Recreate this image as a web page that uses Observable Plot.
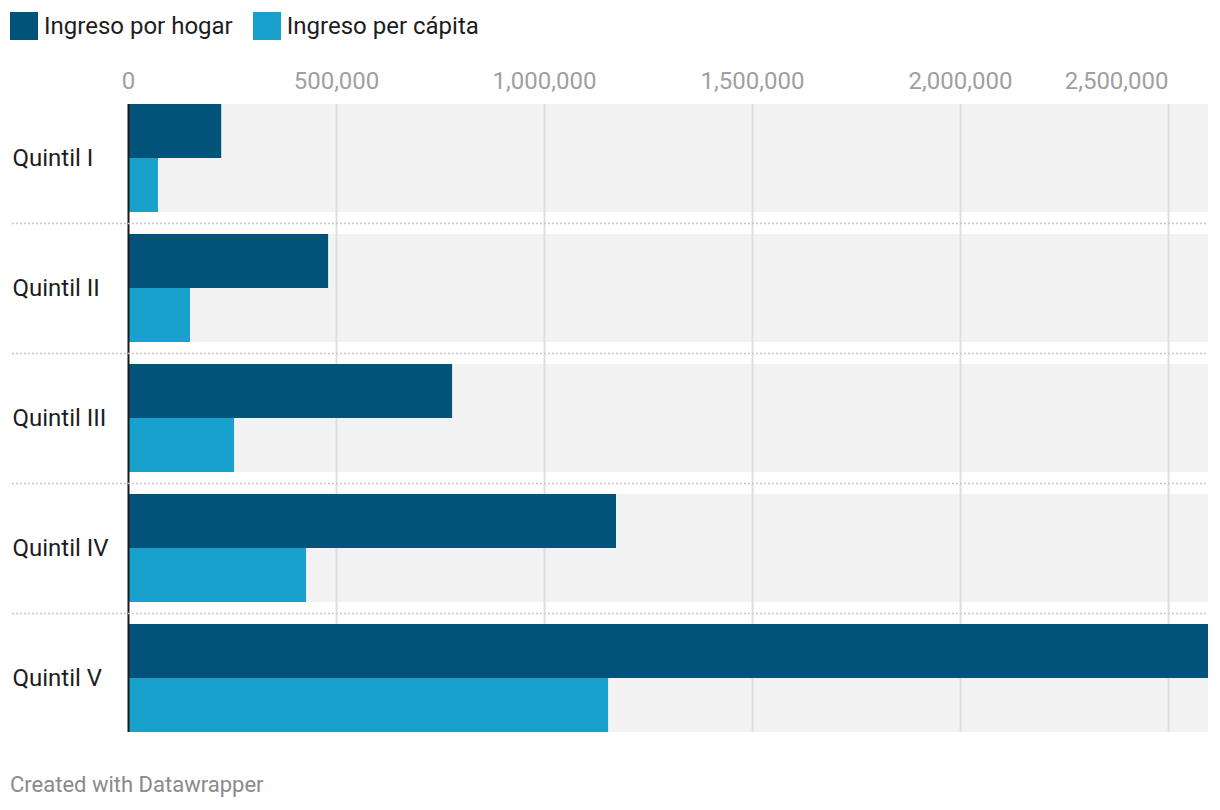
<!DOCTYPE html>
<html>
<head>
<meta charset="utf-8">
<script src="https://cdn.jsdelivr.net/npm/d3@7"></script>
<script src="https://cdn.jsdelivr.net/npm/@observablehq/plot@0.6"></script>
<style>
  html, body { margin: 0; padding: 0; background: #fff; }
  body { width: 1220px; height: 810px; font-family: Roboto, "Noto Sans", sans-serif; position: relative; overflow: hidden; }
  #legend { height: 52px; display: flex; align-items: flex-start; padding-left: 10px; box-sizing: border-box; padding-top: 12px; }
  .item { display: flex; align-items: center; margin-right: 20px; font-size: 24px; line-height: 28px; color: #1d1d1d; }
  .swatch { width: 28px; height: 28px; margin-right: 6px; }
  #chart { height: 700px; }
  #footer { position: absolute; left: 10px; top: 772px; font-size: 22px; color: #8a8a8a; }
</style>
</head>
<body>
<div id="legend"></div>
<div id="chart"></div>
<div id="footer">Created with Datawrapper</div>
<script>
const quintiles = ["Quintil I", "Quintil II", "Quintil III", "Quintil IV", "Quintil V"];
const seriesNames = ["Ingreso por hogar", "Ingreso per cápita"];
const hogar = [224000, 481000, 779000, 1173000, 2596000];
const perCapita = [72000, 149000, 255000, 428000, 1154000];
const tickValues = [0, 500000, 1000000, 1500000, 2000000, 2500000];
const colors = ["#01537a", "#19a1cd"];

const rows = [];
quintiles.forEach((q, i) => {
  rows.push({quintil: q, serie: seriesNames[0], value: hogar[i]});
  rows.push({quintil: q, serie: seriesNames[1], value: perCapita[i]});
});
const xMax = d3.max(rows, d => d.value);
const fmt = d3.format(",");

// legend
const legend = document.getElementById("legend");
seriesNames.forEach((s, i) => {
  const it = document.createElement("div");
  it.className = "item";
  it.innerHTML = `<div class="swatch" style="background:${colors[i]}"></div><span>${s}</span>`;
  legend.appendChild(it);
});

const chart = Plot.plot({
  width: 1220,
  height: 690,
  marginTop: 52,
  marginBottom: 10,
  marginLeft: 128,
  marginRight: 12,
  style: {fontFamily: "Roboto, 'Noto Sans', sans-serif", color: "#a0a0a0", background: "#fff"},
  x: {domain: [0, xMax], label: null},
  y: {domain: quintiles, paddingInner: 22 / 130, paddingOuter: 0, label: null},
  color: {domain: seriesNames, range: colors},
  marks: [
    Plot.barX(quintiles, {x1: 0, x2: xMax, y: d => d, fill: "#f2f2f2"}),
    Plot.ruleX(tickValues.slice(1), {stroke: "#dedede", strokeWidth: 2}),
    Plot.barX(rows.filter(d => d.serie === seriesNames[0]), {x: "value", y: "quintil", fill: "serie", insetBottom: 54}),
    Plot.barX(rows.filter(d => d.serie === seriesNames[1]), {x: "value", y: "quintil", fill: "serie", insetTop: 54}),
    Plot.ruleX([0], {stroke: "#1a1a1a", strokeWidth: 2}),
    Plot.ruleY(quintiles.slice(0, -1), {y: d => d, dy: 65, stroke: "#c8c8c8", strokeWidth: 1.5, strokeDasharray: "2,2", insetLeft: -116}),
    Plot.axisX(tickValues.slice(0, -1), {anchor: "top", tickSize: 0, tickPadding: 16, fontSize: 24, tickFormat: fmt}),
    Plot.axisX(tickValues.slice(-1), {anchor: "top", tickSize: 0, tickPadding: 16, fontSize: 24, tickFormat: fmt, textAnchor: "end"}),
    Plot.axisY({anchor: "left", tickSize: 0, tickPadding: 116, textAnchor: "start", fontSize: 24, fill: "#1d1d1d"})
  ]
});
document.getElementById("chart").appendChild(chart);
</script>
</body>
</html>
